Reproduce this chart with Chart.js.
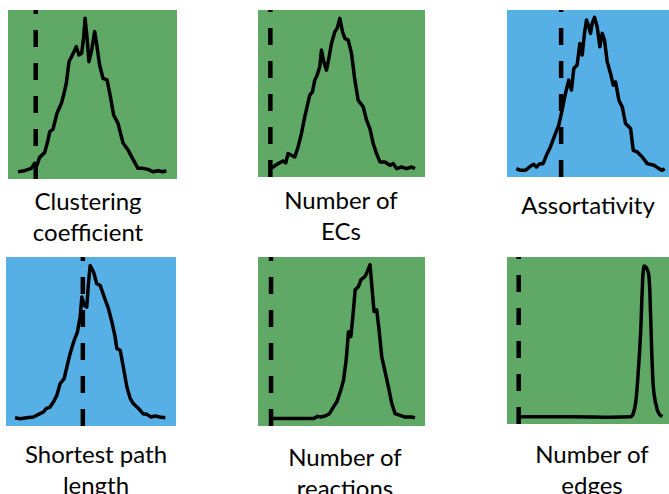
<!DOCTYPE html>
<html>
<head>
<meta charset="utf-8">
<script src="https://cdn.jsdelivr.net/npm/chart.js@4"></script>
<style>
  html, body { margin: 0; padding: 0; background: #fff; }
  body { width: 669px; height: 494px; position: relative; overflow: hidden; }
  .panel { position: absolute; }
  .panel canvas { display: block; }
  .label {
    position: absolute; width: 200px; text-align: center;
    font-family: Lato, "Open Sans", sans-serif; font-size: 24px; line-height: 31px;
    color: #000;
  }
</style>
</head>
<body>
<div class="panel" style="left:8px;top:10px;background:#5fa865"><canvas id="c1" width="169" height="169"></canvas></div>
<div class="panel" style="left:258px;top:10px;background:#5fa865"><canvas id="c2" width="167" height="167"></canvas></div>
<div class="panel" style="left:507px;top:10px;background:#56b0e6"><canvas id="c3" width="167" height="167"></canvas></div>
<div class="panel" style="left:6px;top:257px;background:#56b0e6"><canvas id="c4" width="170" height="169"></canvas></div>
<div class="panel" style="left:258px;top:257px;background:#5fa865"><canvas id="c5" width="167" height="169"></canvas></div>
<div class="panel" style="left:507px;top:257px;background:#5fa865"><canvas id="c6" width="167" height="167"></canvas></div>

<div class="label" style="left:-12px;top:185px">Clustering<br>coefficient</div>
<div class="label" style="left:241px;top:184px">Number of<br>ECs</div>
<div class="label" style="left:488px;top:189px">Assortativity</div>
<div class="label" style="left:-4px;top:438px">Shortest path<br>length</div>
<div class="label" style="left:245px;top:441px">Number of<br>reactions</div>
<div class="label" style="left:492px;top:438px">Number of<br>edges</div>

<script>
// each panel: x position (0-100 across the box), y height (0-100 of the box), dashed line position
const clusteringX = [5.9, 9.9, 13.8, 15.8, 17.2, 18.7, 21.7, 23.7, 24.7, 26.6, 29, 31.6, 32.9, 34.5, 36.1, 38.1, 40.4, 42, 43.6, 44.8, 45.6, 46.7, 47.9, 49.5, 51.3, 52.7, 54.2, 56.2, 58.6, 60.6, 62.5, 65.1, 68, 71, 74, 76.9, 79.9, 82.8, 85.8, 88.8, 91.7, 93.7];
const clusteringY = [4.3, 4.9, 6.3, 9.3, 8.3, 12.8, 15.6, 23.1, 28, 29.4, 38.9, 44.8, 49.7, 56.6, 69.4, 73.4, 78.3, 73.4, 74.4, 84.2, 95.1, 84.2, 69.4, 76.3, 87.2, 78.3, 67.5, 59.6, 58.6, 48.7, 37.9, 32.9, 21.5, 17.2, 11.6, 6.3, 6.3, 5.7, 4.3, 4.9, 4.3, 4.9];
const clusteringRef = 16.4;

const ecsX = [6.6, 9, 12, 15, 16.6, 18, 20, 22, 24, 26, 28, 31, 32.6, 34, 35.4, 37, 38, 39.4, 41, 42.6, 44, 46, 47.4, 49, 50.6, 52, 54, 56, 58, 60, 63, 65, 67, 69, 71, 73, 76, 79, 81, 83, 86, 89, 92, 94];
const ecsY = [4.4, 6, 8, 9.6, 8.4, 14, 13, 12, 18, 26, 36, 49, 51, 58, 61, 66, 76, 69, 64, 72, 80, 87, 89, 95, 87, 83, 82, 74, 58, 46, 42, 34, 29, 20, 14, 9, 9, 7, 8, 5, 6, 5, 6, 5];
const ecsRef = 7.4;

const assortX = [5.6, 8, 11, 14, 16, 17.6, 19.6, 21.6, 23.6, 26, 29, 31, 33, 35, 37, 38.6, 40, 42, 43.6, 45, 46.4, 47.6, 49, 50, 51, 52.4, 54, 55.6, 57, 58.4, 60, 62, 63.6, 65, 67, 69, 71, 74, 75.6, 78, 81, 84, 88, 91, 93, 94.4];
const assortY = [5, 4, 4, 6.4, 7.6, 6, 8, 8, 13, 18, 26, 31, 40, 50, 58, 52, 65, 67, 80, 73, 86, 94, 90, 86, 92, 95.6, 90, 78, 86, 82, 69, 62, 55, 57, 46, 42, 32, 29, 16, 15, 12, 8, 7, 5, 4, 5];
const assortRef = 32.4;

const pathX = [5.3, 8.3, 12.2, 16.1, 20, 22, 23.6, 25.9, 27.9, 29.9, 31.8, 34.2, 35.8, 37.7, 40.1, 42, 43.6, 44.6, 46, 47.5, 48.5, 49.5, 51.5, 53.4, 55.4, 57.8, 60.3, 62.3, 64.2, 65.2, 67.2, 69.2, 71.1, 73.1, 75, 78, 80.6, 82.9, 85.3, 87.8, 90.4, 93.7];
const pathY = [4.9, 4.3, 4.9, 5.3, 7.3, 8.3, 10.3, 11.2, 14.2, 18.1, 25, 28, 34.9, 42.8, 50.7, 55.6, 64.5, 76.3, 71.4, 70.4, 84.2, 95, 91.1, 84.2, 83.2, 76.3, 69.4, 61.5, 52.7, 45.8, 44.8, 33.9, 23.1, 16.2, 13.2, 10.3, 7.3, 6.9, 5.3, 5.9, 5.3, 4.9];
const pathRef = 45.2;

const reactionsX = [7, 20, 33.3, 35.7, 37.6, 40.2, 42.8, 45.2, 47.2, 49.6, 51.2, 52.8, 54.2, 55.6, 56.8, 58.2, 60.2, 61.6, 64.1, 65.5, 67.1, 68.7, 69.5, 71.1, 72.7, 74.1, 76.1, 78.1, 80.1, 82.1, 85.1, 88, 92, 94];
const reactionsY = [4.4, 4.4, 4.4, 5.7, 5.3, 5.9, 7.3, 11.3, 14.3, 21.2, 27.1, 39, 55.8, 52.9, 64.8, 80.6, 82.6, 86.5, 88.5, 91.5, 95.4, 76.6, 67.7, 68.7, 54.9, 41, 32.1, 23.2, 13.3, 7.3, 6.3, 5.3, 5.3, 4.8];
const reactionsRef = 7.8;

const edgesX = [7, 40, 74, 75.6, 77, 78.4, 80, 81, 82, 83.6, 85, 86, 87, 88, 90, 91.6, 93];
const edgesY = [4.4, 4.4, 4.4, 6.4, 12.4, 28.4, 54.4, 80.4, 94.4, 93.4, 88.4, 64.4, 34.4, 18.4, 8.4, 5.4, 4.4];
const edgesRef = 7;

function drawPanel(id, xs, ys, ref, tension) {
    const curve = xs.map((x, i) => ({ x: x, y: ys[i] }));
    new Chart(document.getElementById(id), {
        type: 'line',
        data: {
            datasets: [{
                data: curve,
                borderColor: '#000',
                borderWidth: 3.5,
                pointRadius: 0,
                tension: tension,
                borderJoinStyle: 'round'
            }, {
                data: [{ x: ref, y: 0 }, { x: ref, y: 100 }],
                borderColor: '#000',
                borderWidth: 4.5,
                borderDash: [17, 16],
                pointRadius: 0
            }]
        },
        options: {
            responsive: false,
            animation: false,
            layout: { padding: 0 },
            plugins: { legend: { display: false }, tooltip: { enabled: false } },
            scales: {
                x: { type: 'linear', min: 0, max: 100, display: false },
                y: { min: 0, max: 100, display: false }
            }
        }
    });
}

drawPanel('c1', clusteringX, clusteringY, clusteringRef, 0);
drawPanel('c2', ecsX, ecsY, ecsRef, 0);
drawPanel('c3', assortX, assortY, assortRef, 0);
drawPanel('c4', pathX, pathY, pathRef, 0);
drawPanel('c5', reactionsX, reactionsY, reactionsRef, 0);
drawPanel('c6', edgesX, edgesY, edgesRef, 0.4);
</script>
</body>
</html>
